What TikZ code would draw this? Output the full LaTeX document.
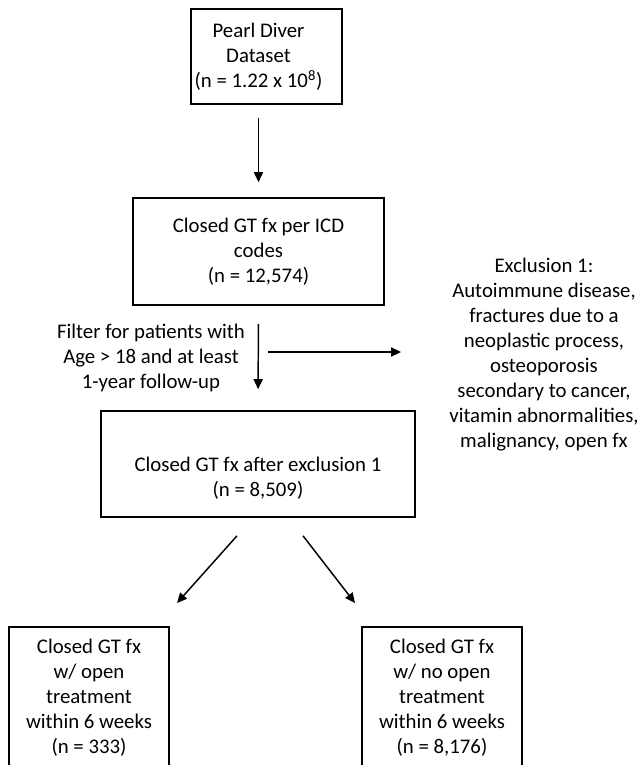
\documentclass[tikz,border=0pt]{standalone}
\usepackage{fontspec}
\setmainfont{Carlito}
\usetikzlibrary{arrows.meta}

\begin{document}
\begin{tikzpicture}[x=0.75pt, y=-0.75pt,
    every node/.append style={font=\fontsize{15.6}{18.75}\selectfont},
    box/.style={draw, line width=1.2pt, align=center, inner sep=0pt},
    txt/.style={align=center, inner sep=0pt},
    arr/.style={line width=1.1pt, -{Triangle[length=7.5pt,width=6.8pt]}}]
    % Page
    \useasboundingbox (0,0) rectangle (640,765);
    \clip (0,0) rectangle (640,765);

    % Main column
    \node[box, minimum width=113.25pt, minimum height=71.25pt] (pearl) at (266.5,56.5) {};
    \node[txt] (pearltext) at (258.5,57) {Pearl Diver\\Dataset\\(n = 1.22 x 10\textsuperscript{8})};
    \node[box, minimum width=188.25pt, minimum height=80.25pt] (icd) at (258.5,251.5)
        {Closed GT fx per ICD\\codes\\(n = 12,574)};
    \node[box, minimum width=235.5pt, minimum height=79.5pt] (excl) at (258,464)
        {\strut\\Closed GT fx after exclusion 1\\(n = 8,509)};

    % Filter and exclusion
    \node[txt] (filter) at (151,358) {Filter for patients with\\Age > 18 and at least\\1-year follow-up};
    \node[txt] (note) at (544,355) {Exclusion 1:\\Autoimmune disease,\\fractures due to a\\neoplastic process,\\osteoporosis\\secondary to cancer,\\vitamin abnormalities,\\malignancy, open fx};

    % Split by treatment
    \node[box, anchor=north, minimum width=120pt, inner ysep=9pt, text depth=40pt] (open) at (89,626)
        {Closed GT fx\\w/ open\\treatment\\within 6 weeks\\(n = 333)};
    \node[box, anchor=north, minimum width=120pt, inner ysep=9pt, text depth=40pt] (noopen) at (442,626)
        {Closed GT fx\\w/ no open\\treatment\\within 6 weeks\\(n = 8,176)};

    % Arrows
    \draw[arr, shorten <=9.75pt, shorten >=11.25pt] (pearltext |- pearl.south) -- (pearltext |- icd.north);
    \draw[arr, shorten <=13.5pt, shorten >=15.75pt] (icd.south) -- (excl.north);
    \coordinate (branch) at (268,352);
    \draw[arr, shorten >=36pt] (branch) -- (branch -| note.west);
    \draw[arr] ([shift={(-21,18)}]excl.south) -- ([shift={(88,-23)}]open.north);
    \draw[arr] ([shift={(45,18)}]excl.south) -- ([shift={(-87,-23)}]noopen.north);
\end{tikzpicture}
\end{document}
